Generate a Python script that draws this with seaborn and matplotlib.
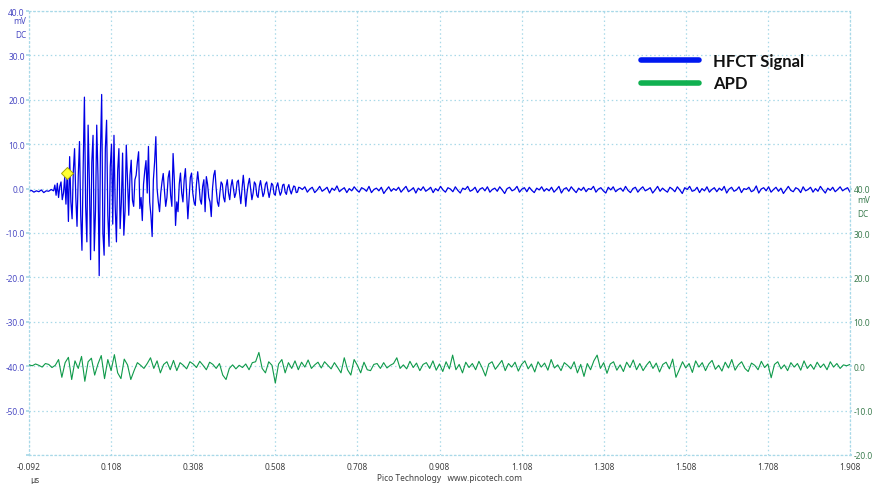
import numpy as np
import pandas as pd
import matplotlib
matplotlib.use("Agg")
import matplotlib.pyplot as plt
from matplotlib.lines import Line2D
import seaborn as sns

# ---- time base (microseconds) ----
X_START = -0.092
X_END = 1.908
x_ticks = [-0.092, 0.108, 0.308, 0.508, 0.708, 0.908, 1.108, 1.308, 1.508, 1.708, 1.908]

# ---- HFCT signal (mV, left axis) ----
PRE_START, PRE_STEP = -0.092, 0.006
hfct_pre = [-0.6, -0.4, -0.8, -0.5, -0.7, -0.3, -0.9, -0.5, -0.6, -0.2]

BURST_START, BURST_STEP = -0.032, 0.003
hfct_burst = [
    -0.5, 0.8, -1.5, 1.2, -2.0, 0.5, 1.5, -2.5, -1.0, 2.5,
    -3.5, 3.6, -7.4, 7.2, -3.0, -6.8, 4.0, 9.0, -2.0, -8.5,
    3.0, 10.6, -6.0, -13.9, 5.0, 20.6, -4.0, -12.0, 14.3, 2.0,
    -16.0, 6.0, 12.0, -14.0, -5.0, 14.3, 3.0, -19.6, 8.0, 21.2,
    -10.0, -15.0, 9.0, 15.4, -6.0, -13.0, 5.0, 10.0, -8.0, 12.0,
    -4.0, -12.0, 4.0, 9.0, -9.0, -3.0, 8.0, -10.5, -5.0, 9.8,
    2.0, -6.0, 3.0, 6.4, -2.6, -4.0, 2.0, 3.0, 6.0, 8.3,
    -4.5, -2.0, -7.2, 1.0, 4.0, 6.3, -1.0, 9.5, -3.0, -6.0,
    -10.8, 2.0, 6.0, 11.7, 0.0, -3.0, -5.2, -1.0, 1.5, 3.4,
    -0.5, -4.0, -2.0, 2.5, 4.0, -1.5, -4.0, 7.9, 2.0, -8.3,
    -3.0, -5.2, 1.0, 3.5, -1.0, -3.0, 2.0, 4.5, -1.0, -6.8,
    -2.0, 2.5, 3.5, -1.0, -3.0, -3.8, 1.0, 3.8, 1.0, -2.5,
    -3.5, 0.5, 2.0, -5.2, 2.7, 1.0, -2.0, -3.0, -6.3, 0.0,
    3.0, 4.1, 0.0, -3.0, -4.0, -1.0, 1.5, 1.0, -2.0, -3.0,
    0.5, 2.0, -1.0, -2.5, 0.5, 2.0, 0.0, -2.0, -1.0, 1.5,
    1.9, -1.0, -3.4, 0.0, 3.0, 0.0, -4.0, -1.0, 1.0, 2.3,
    0.0, -2.5, -1.0, 1.5, 1.0, -1.5, -2.0, 0.5, 1.8, 0.0,
    -1.8, -1.0, 1.0, 1.5, -0.5, -2.0, -0.5, 1.2, 0.8, -1.2,
    -1.5, 0.5, 1.3, -0.3, -1.5, -0.8, 0.8, 1.0, -0.8, -1.3,
    0.2, 0.9, -0.4, -1.2, -0.2, 0.6, 0.4, -0.9, -0.8, 0.3,
    0.2,
]

TAIL_START = 0.574
hfct_tail = [
    -0.2, 0.4, -0.8, -0.1, 0.3, -0.9, -0.3, 0.5, -0.6, -0.2,
    0.3, -1.0, 0.1, -0.4, 0.6, -0.7, -0.2, 0.2, -0.9, 0.0,
    -0.5, 0.4, -0.3, -0.8, 0.2, -0.1, -0.6, 0.5, -0.9, -0.2,
    0.1, -0.5, 0.3, -1.1, -0.3, 0.4, -0.6, 0.0, -0.4, 0.3,
    -0.8, -0.1, 0.5, -0.7, -0.3, 0.2, -1.0, 0.1, -0.4, 0.4,
    -0.6, -0.2, 0.3, -0.9, 0.0, -0.5, 0.5, -0.3, -0.8, 0.2,
    -0.1, -0.7, 0.4, -0.4, -1.0, 0.1, -0.2, 0.5, -0.6, -0.3,
    0.3, -0.9, -0.1, 0.2, -0.5, 0.4, -0.8, -0.2, 0.1, -0.6,
    0.4, -0.3, -1.1, 0.0, 0.3, -0.5, -0.2, 0.5, -0.8, -0.1,
    0.2, -0.7, 0.3, -0.4, -0.9, 0.1, -0.3, 0.4, -0.6, 0.0,
    -0.5, 0.3, -0.8, -0.2, 0.5, -1.0, -0.1, 0.2, -0.6, 0.4,
    -0.3, -0.9, 0.1, -0.4, 0.3, -0.7, 0.0, -0.2, 0.5, -0.8,
    -0.1, 0.2, -0.5, -1.0, 0.3, -0.3, 0.4, -0.7, -0.2, 0.1,
    -0.6, 0.5, -0.4, -0.9, 0.0, 0.3, -0.8, -0.1, 0.4, -0.5,
    -0.2, 0.2, -1.0, -0.3, 0.5, -0.6, 0.1, -0.4, -0.8, 0.3,
    -0.1, -0.7, 0.4, -0.3, -1.1, 0.2, -0.2, 0.5, -0.6, -0.4,
    0.3, -0.9, 0.0, -0.5, 0.4, -0.8, -0.2, 0.2, -0.7, 0.1,
    -0.4, 0.5, -1.0, -0.1, 0.3, -0.6, -0.3, 0.4, -0.9, 0.0,
    -0.2, 0.3, -0.7, -0.4, 0.6, -1.0, -0.1, 0.2, -0.5, 0.4,
    -0.8, -0.2, 0.3, -0.6, 0.1, -1.1, -0.3, 0.5, -0.4, -0.7,
    0.2, -0.1, -0.9, 0.4, -0.5, -0.2, 0.3, -0.8, 0.0, -0.6,
    0.5, -0.3, -1.0, 0.1, -0.4, 0.3, -0.7, -0.2, 0.4, -0.5,
    -0.1, 0.2, -0.8,
]

# trigger point
trigger_time = 0.0
trigger_level = 3.6

# ---- APD signal (mV, right axis) ----
apd = [
    0.3, 0.1, 0.5, 0.2, -0.2, 0.6, 0.4, -0.3, 0.2,
    1.5, -2.5, 0.8, 2.0, -3.0, 1.2, -0.5, 2.2, -3.4, 1.0, 1.8,
    -2.0, 0.5, 2.4, -2.8, 1.5, -1.0, 2.6, -1.5, -2.8, 1.6, 0.3,
    -3.0, -1.0, 0.8, 0.2, -0.5, 0.6, 1.9,
    -0.5, 1.2, -1.5, 0.4, 1.0, -0.8, 1.3, -1.0, 0.8, 0.2, -0.6, 1.0,
    0.5, -0.3, 1.1, 0.2, -0.8, 0.9, 0.4, -0.5, 0.6, -2.0, -3.0,
    -0.5, 0.3, -0.6, 0.2, -0.3, 0.5, -0.8, 0.8, 1.0, 3.1,
    -0.5, -1.5, 1.0, 0.2, -3.8, 0.5, 1.5, -1.5, 0.8, -0.5,
    1.2, -0.8, 0.9, -0.2, 1.4, -0.5, 0.3, 0.9, -0.4, 1.0, 0.2, -0.6, 0.8, -0.3, -1.5, 1.9,
    -0.8, -2.0, 1.5, 0.2, -1.5, 0.9, -0.8, -1.0, 0.4, 0.6, -0.5, 0.8, -0.4, 0.2,
    0.6, 1.9, -0.5, 0.3, -0.6, 1.1, -0.3, 0.7, -1.0, 0.4,
    0.8, -0.5, 1.2, -0.9, 0.5, -1.2, 1.0, -0.6, 2.5, -0.8, 0.4, -1.5, 0.9, -0.3, 0.6,
    -0.8, 1.1, -0.4, -2.2, 0.5, 1.0, -0.7, 0.3, 1.3, -1.0, 0.6, -0.2, 0.9, -1.1, 0.4,
    1.2, -0.6, 0.5, -1.3, 1.0, -0.2, 0.7, -0.9, 1.5, -0.4, 0.3, -1.0, 0.8, 0.2, -0.6,
    1.0, -1.5, 0.4, -2.3, 0.6, -0.8, 1.2, 2.5, -0.5, 0.8, -1.6, 0.5, 1.0, -0.9, 0.3,
    -1.2, 0.9, -0.3, 1.4, -0.8, 0.6, -1.0, 0.2, 1.1, -0.5, 0.7, -1.3, 0.4, 0.9, -0.6,
    1.6, -2.5, -0.8, 1.0, -0.4, 0.6, -1.4, 1.2, -0.2, 0.8, -1.0, 0.5, 1.3, -0.7, 0.2,
    -1.1, 0.9, -0.4, 1.5, -0.9, 0.3, 1.0, -0.5, -1.2, 0.7, 0.2, -0.8, 1.1, -0.3, 0.5,
    -2.6, 0.4, 1.0, -0.6, 0.3, -1.0, 0.8, -0.2, 0.6, -0.9, 1.2, -0.5, 0.4, -0.7, 0.9,
    -0.3, 0.5, -0.8, 1.0, -0.2, 0.6, -0.5, 0.3, 0.1, 0.4,
]

left_ticks = [40, 30, 20, 10, 0, -10, -20, -30, -40, -50]
right_ticks = [40, 30, 20, 10, 0, -10, -20]

# ---- assemble frames ----
t_pre = PRE_START + PRE_STEP * np.arange(len(hfct_pre))
t_burst = BURST_START + BURST_STEP * np.arange(len(hfct_burst))
t_tail = np.linspace(TAIL_START, X_END, len(hfct_tail))
hfct_df = pd.DataFrame({
    "time": np.concatenate([t_pre, t_burst, t_tail]),
    "mV": np.concatenate([hfct_pre, hfct_burst, hfct_tail]),
})
apd_df = pd.DataFrame({"time": np.linspace(X_START, X_END, len(apd)), "mV": apd})

# ---- styling ----
sns.set_theme(style="white")
plt.rcParams["font.family"] = ["Noto Sans", "DejaVu Sans"]
plt.rcParams["axes.unicode_minus"] = False

GRID = "#a9d9e8"
BLUE = "#0000e6"
GREEN = "#0f9a4a"
LEFT_LBL = "#4b4bc4"
RIGHT_LBL = "#3c7d50"
TICK_FS = 6.0
DOTS = (0, (1.2, 2.2))

W, H = 873, 485
fig = plt.figure(figsize=(W / 100, H / 100), dpi=100)
fig.patch.set_facecolor("white")
ax = fig.add_axes([29 / W, 29 / H, 821 / W, 444 / H])
ax2 = ax.twinx()

sns.lineplot(data=hfct_df, x="time", y="mV", ax=ax, color=BLUE, lw=0.9,
             estimator=None, sort=False)
sns.lineplot(data=apd_df, x="time", y="mV", ax=ax2, color=GREEN, lw=0.8,
             estimator=None, sort=False)
ax.plot([trigger_time], [trigger_level], marker="D", ms=6.5, color="#ffff30",
        mec="#a8a800", mew=0.7, zorder=5)

ax.set_xlim(X_START, X_END)
ax.set_ylim(-60, 40)
ax2.set_ylim(-20, 80)

ax.set_xticks(x_ticks)
ax.set_xticklabels([f"{v:.3f}" for v in x_ticks], fontsize=TICK_FS, color="#404040")
ax.set_yticks(left_ticks + [-60])
ax.set_yticklabels([f"{v:.1f}" for v in left_ticks] + [""], fontsize=TICK_FS, color=LEFT_LBL)
ax2.set_yticks(right_ticks)
ax2.set_yticklabels([f"{v:.1f}" for v in right_ticks], fontsize=TICK_FS, color=RIGHT_LBL)
ax.set_xlabel("")
ax.set_ylabel("")
ax2.set_ylabel("")

ax.grid(True, color=GRID, linestyle=DOTS, lw=0.9)
ax.tick_params(axis="x", length=2, color=GRID, pad=3)
ax.tick_params(axis="y", length=2, color=GRID, pad=1)
ax2.tick_params(axis="y", length=1.5, color=GRID, pad=1)
for sp in ax.spines.values():
    sp.set_color(GRID)
    sp.set_linestyle(DOTS)
    sp.set_linewidth(0.9)
for sp in ax2.spines.values():
    sp.set_visible(False)

# unit captions under the top labels of each axis
for txt, dy in (("mV", -10), ("DC", -24)):
    ax.annotate(txt, xy=(0, 40), xycoords=("axes fraction", "data"),
                xytext=(-3, dy), textcoords="offset pixels",
                ha="right", va="center", fontsize=TICK_FS, color=LEFT_LBL)
    ax2.annotate(txt, xy=(1, 40), xycoords=("axes fraction", "data"),
                 xytext=(7, dy - 1), textcoords="offset pixels",
                 ha="left", va="center", fontsize=TICK_FS, color=RIGHT_LBL)

fig.text(35 / W, 1 - 481 / H, "µs", ha="center", va="center",
         fontsize=TICK_FS, color="#404040")
fig.text(450 / W, 1 - 479 / H, "Pico Technology   www.picotech.com",
         ha="center", va="center", fontsize=TICK_FS, color="#404040")

handles = [Line2D([], [], color="#0018f0", lw=4), Line2D([], [], color="#10b050", lw=4)]
leg = ax.legend(handles, ["HFCT Signal", "APD"], loc="upper left",
                bbox_to_anchor=((641 - 29) / 821, (456 - 54) / 444),
                frameon=False, handlelength=3.5, handletextpad=0.8,
                labelspacing=0.38, borderpad=0, borderaxespad=0,
                prop={"family": "Lato", "weight": "bold", "size": 12})
for t in leg.get_texts():
    t.set_color("#111111")

fig.savefig("out.png", dpi=100, facecolor="white")
